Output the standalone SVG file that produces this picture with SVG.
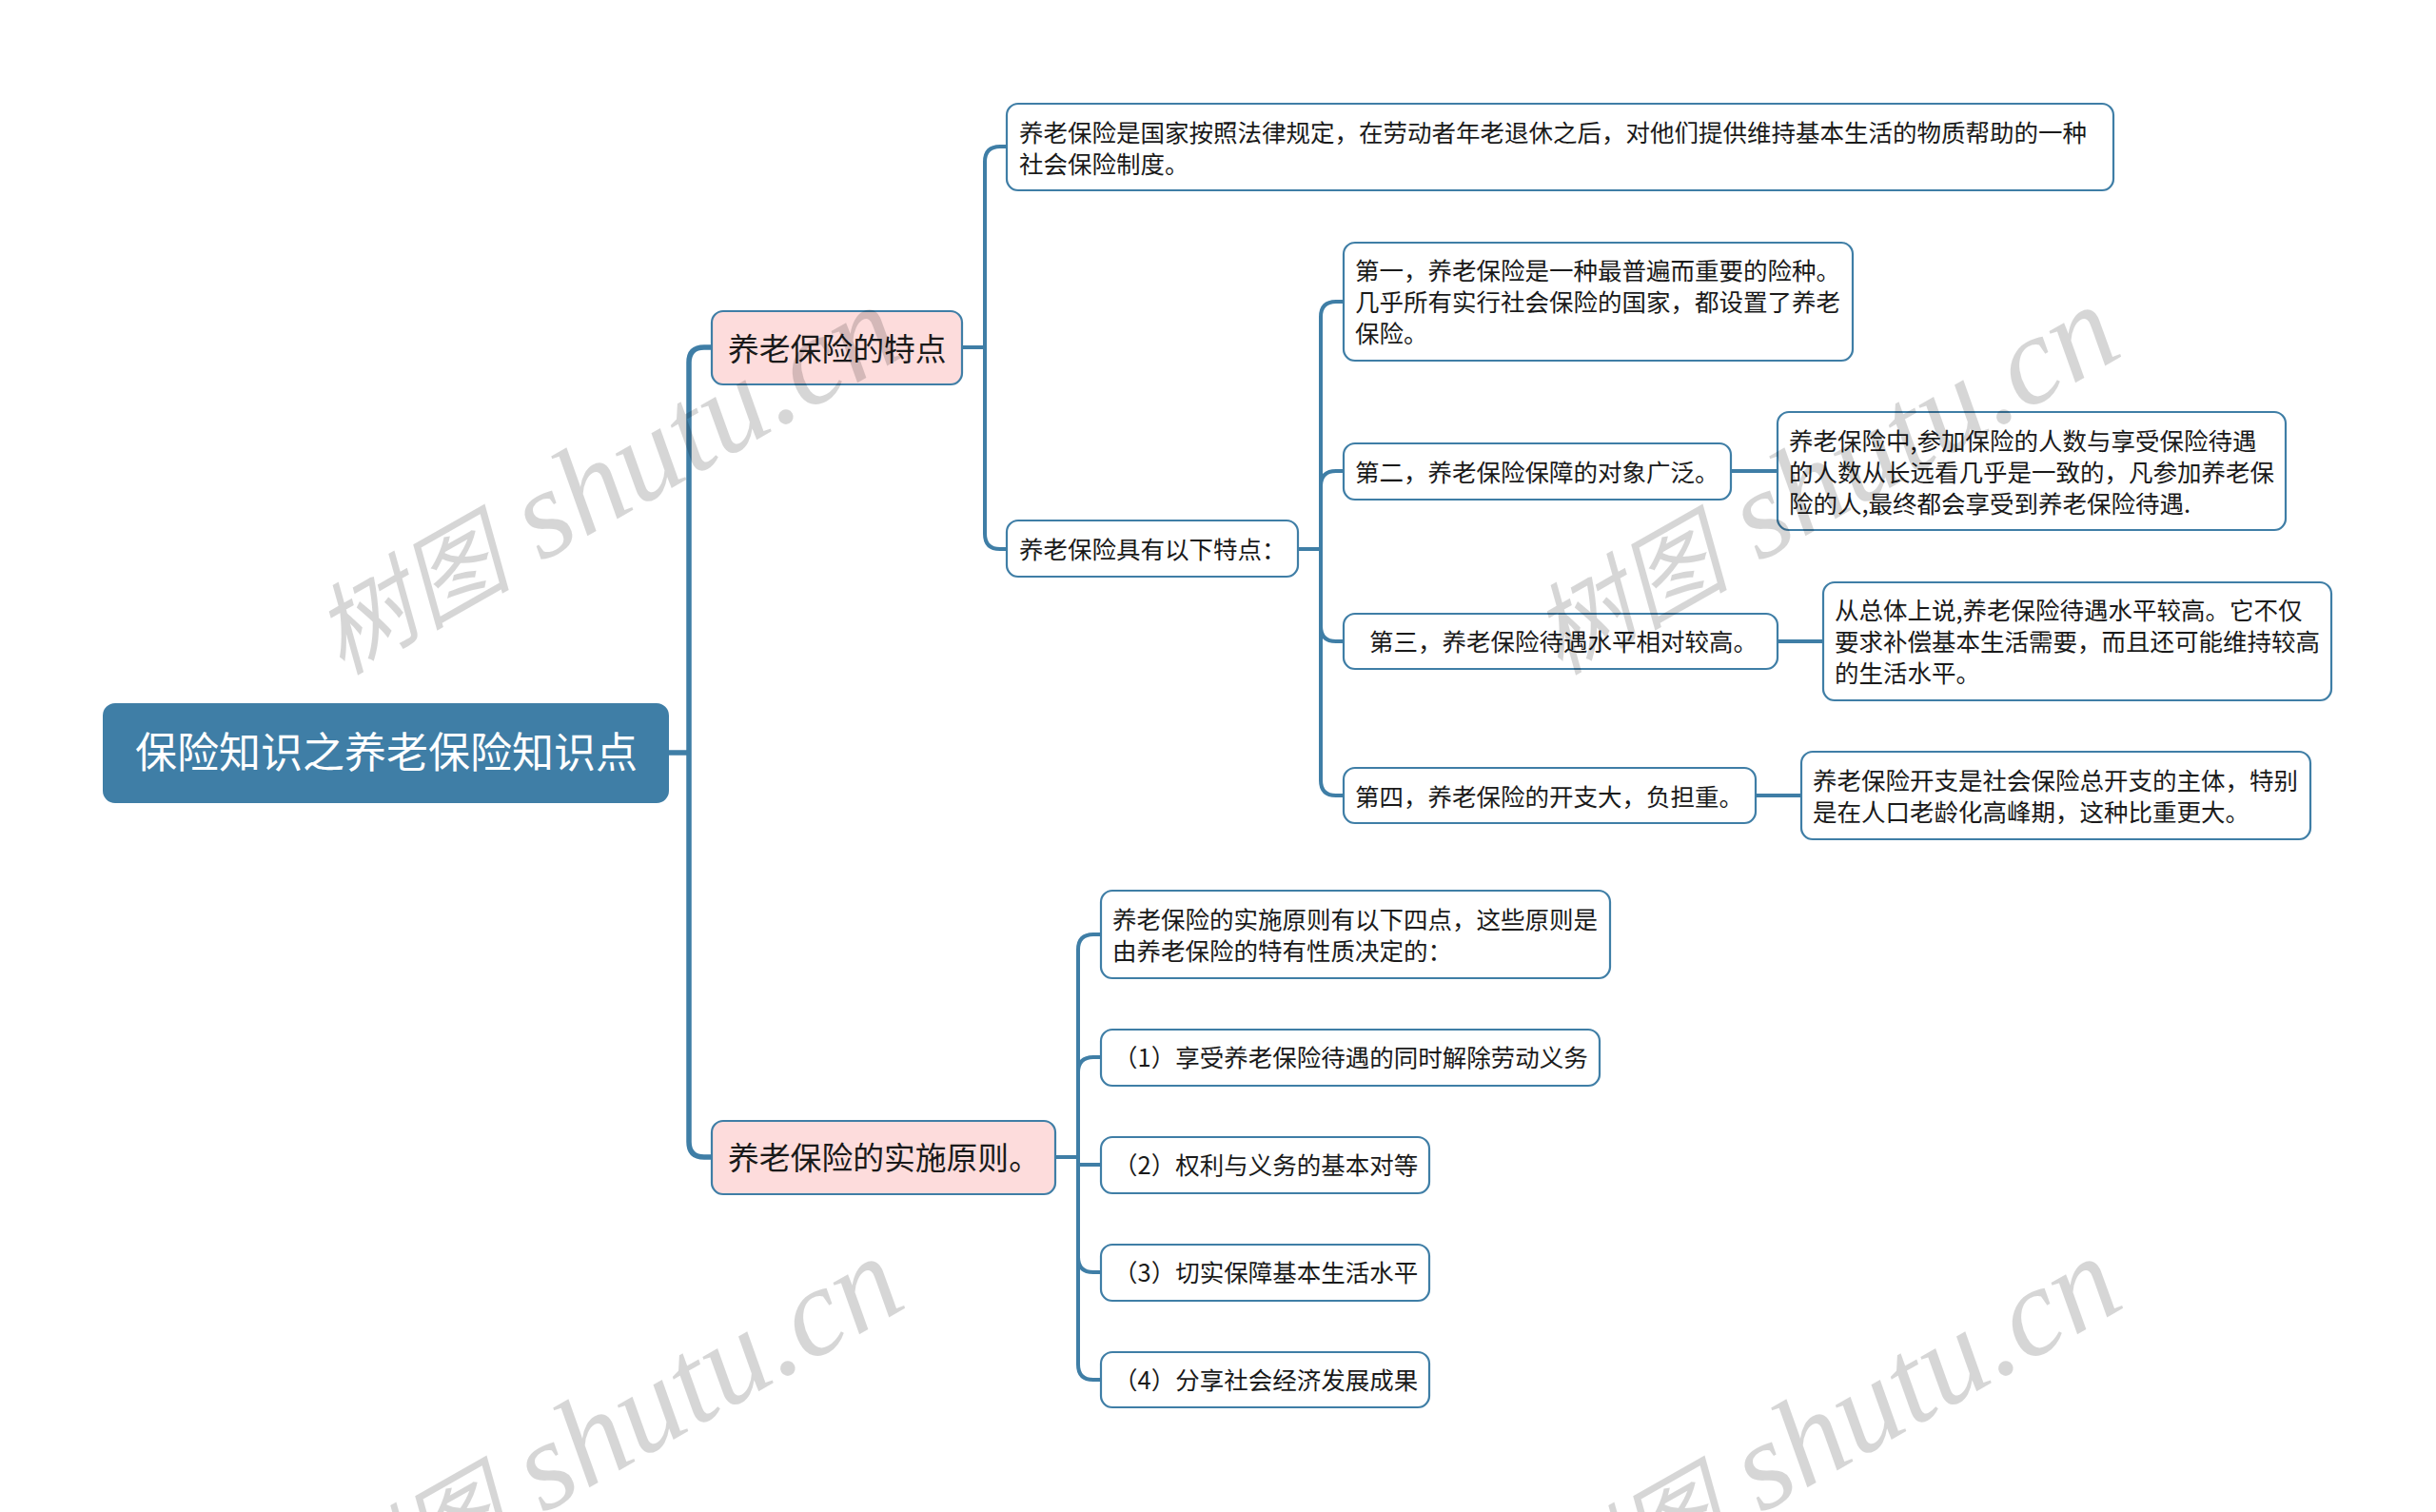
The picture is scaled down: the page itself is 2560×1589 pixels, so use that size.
<svg xmlns="http://www.w3.org/2000/svg" width="2560" height="1589" viewBox="0 0 2560 1589">
<style>
text{font-family:"Noto Sans CJK SC","Noto Sans",sans-serif;fill:#1a1a1a}
.n{fill:#fff;stroke:#3f7ea6;stroke-width:2.2}
.p{fill:#fddcdc;stroke:#3f7ea6;stroke-width:2.2}
.r{fill:#3f7ea6;stroke:#3f7ea6;stroke-width:2}
.t{font-size:25.5px}
.m{font-size:32.8px}
.w{font-size:44px;fill:#fff}
.c{fill:none;stroke:#3f7ea6;stroke-width:4}
.c1{fill:none;stroke:#3f7ea6;stroke-width:5.5}
.wm{font-family:"Liberation Serif","Noto Sans CJK SC",serif;font-style:italic;font-size:132px;fill:#000;fill-opacity:.16}
</style>
<rect width="2560" height="1589" fill="#fff"/>
<g id="connectors">
<path class="c1" d="M702 791H724M748 365H740Q724 365 724 381V1200Q724 1216 740 1216H748"/>
<path class="c" d="M1011 365H1035M1058 154H1051Q1035 154 1035 170V561Q1035 577 1051 577H1058"/>
<path class="c" d="M1363 577H1388M1412 317H1404Q1388 317 1388 333V820Q1388 836 1404 836H1412M1388 511Q1388 495 1404 495H1412M1388 658Q1388 674 1404 674H1412"/>
<path class="c" d="M1819 495H1868M1867 674H1916M1844 836H1893"/>
<path class="c" d="M1109 1216H1133M1157 982H1149Q1133 982 1133 998V1434Q1133 1450 1149 1450H1157M1133 1127Q1133 1111 1149 1111H1157M1133 1224H1157M1133 1321Q1133 1337 1149 1337H1157"/>
</g>
<g id="root"><rect class="r" x="109" y="740" width="593" height="103" rx="12"/><text class="w" x="142" y="807">保险知识之养老保险知识点</text></g>
<g id="n1"><rect class="p" x="748" y="327" width="263" height="77" rx="12"/><text class="m" x="765" y="379">养老保险的特点</text></g>
<g id="n2"><rect class="p" x="748" y="1178" width="361" height="77" rx="12"/><text class="m" x="765" y="1229">养老保险的实施原则。</text></g>
<g id="a"><rect class="n" x="1058" y="109" width="1163" height="91" rx="12"/><text class="t" x="1071" y="149">养老保险是国家按照法律规定，在劳动者年老退休之后，对他们提供维持基本生活的物质帮助的一种</text><text class="t" x="1071" y="182">社会保险制度。</text></g>
<g id="b"><rect class="n" x="1058" y="547" width="306" height="59" rx="12"/><text class="t" x="1071" y="587">养老保险具有以下特点：</text></g>
<g id="c1"><rect class="n" x="1412" y="255" width="535" height="124" rx="12"/><text class="t" x="1424" y="294">第一，养老保险是一种最普遍而重要的险种。</text><text class="t" x="1424" y="327">几乎所有实行社会保险的国家，都设置了养老</text><text class="t" x="1424" y="360">保险。</text></g>
<g id="c2"><rect class="n" x="1412" y="466" width="407" height="59" rx="12"/><text class="t" x="1424" y="506">第二，养老保险保障的对象广泛。</text></g>
<g id="d2"><rect class="n" x="1868" y="433" width="534" height="124" rx="12"/><text class="t" x="1880" y="473">养老保险中,参加保险的人数与享受保险待遇</text><text class="t" x="1880" y="506">的人数从长远看几乎是一致的，凡参加养老保</text><text class="t" x="1880" y="539">险的人,最终都会享受到养老保险待遇.</text></g>
<g id="c3"><rect class="n" x="1412" y="645" width="456" height="58" rx="12"/><text class="t" x="1439" y="684">第三，养老保险待遇水平相对较高。</text></g>
<g id="d3"><rect class="n" x="1916" y="612" width="534" height="124" rx="12"/><text class="t" x="1928" y="651">从总体上说,养老保险待遇水平较高。它不仅</text><text class="t" x="1928" y="684">要求补偿基本生活需要，而且还可能维持较高</text><text class="t" x="1928" y="717">的生活水平。</text></g>
<g id="c4"><rect class="n" x="1412" y="807" width="433" height="58" rx="12"/><text class="t" x="1424" y="847">第四，养老保险的开支大，负担重。</text></g>
<g id="d4"><rect class="n" x="1893" y="790" width="535" height="92" rx="12"/><text class="t" x="1905" y="830">养老保险开支是社会保险总开支的主体，特别</text><text class="t" x="1905" y="863">是在人口老龄化高峰期，这种比重更大。</text></g>
<g id="e1"><rect class="n" x="1157" y="936" width="535" height="92" rx="12"/><text class="t" x="1169" y="976">养老保险的实施原则有以下四点，这些原则是</text><text class="t" x="1169" y="1009">由养老保险的特有性质决定的：</text></g>
<g id="e2"><rect class="n" x="1157" y="1082" width="524" height="59" rx="12"/><text class="t" x="1170" y="1121">（1）享受养老保险待遇的同时解除劳动义务</text></g>
<g id="e3"><rect class="n" x="1157" y="1195" width="345" height="59" rx="12"/><text class="t" x="1170" y="1234">（2）权利与义务的基本对等</text></g>
<g id="e4"><rect class="n" x="1157" y="1308" width="345" height="59" rx="12"/><text class="t" x="1170" y="1347">（3）切实保障基本生活水平</text></g>
<g id="e5"><rect class="n" x="1157" y="1421" width="345" height="58" rx="12"/><text class="t" x="1170" y="1460">（4）分享社会经济发展成果</text></g>
<g id="watermarks">
<text class="wm" transform="translate(359 710) rotate(-29.6)"><tspan font-size="104">树图</tspan> shutu.cn</text>
<text class="wm" transform="translate(1639 710) rotate(-29.6)"><tspan font-size="104">树图</tspan> shutu.cn</text>
<text class="wm" transform="translate(361 1710) rotate(-29.6)"><tspan font-size="104">树图</tspan> shutu.cn</text>
<text class="wm" transform="translate(1641 1710) rotate(-29.6)"><tspan font-size="104">树图</tspan> shutu.cn</text>
</g>
</svg>
